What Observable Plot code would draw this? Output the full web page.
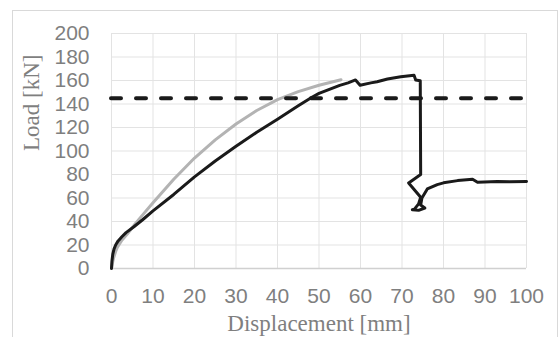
<!DOCTYPE html>
<html>
<head>
<meta charset="utf-8">
<script src="https://cdn.jsdelivr.net/npm/d3@7"></script>
<script src="https://cdn.jsdelivr.net/npm/@observablehq/plot@0.6"></script>
<style>
  html, body { margin: 0; padding: 0; background: #fff; }
  #wrap { position: relative; width: 560px; height: 337px; overflow: hidden; }
  #border { position: absolute; left: 12px; top: 10px; width: 546px; height: 340px; border: 1px solid #d9d9d9; box-sizing: border-box; pointer-events: none; }
</style>
</head>
<body>
<div id="wrap"><div id="border"></div></div>
<script>
// Black test curve (displacement mm, load kN)
const blackDisp = [0, 0.1, 0.3, 0.6, 1.0, 1.6, 2.5, 3.5, 5.4, 7.5, 10, 15, 20, 25, 30, 35, 40, 45, 48.4, 50, 55, 57, 58.8, 59.9, 62.5, 64, 66.5, 69.7, 72.9, 73.3, 74.4, 74.5, 71.6, 74.5, 74, 73, 72.5, 74, 75.5, 74.5, 74.8, 76.1, 78.5, 80, 83.4, 87, 88.2, 93, 96, 100];
const blackLoad = [0, 6, 12, 16.5, 20, 23.5, 27, 30.5, 35.5, 41.5, 49, 63, 78, 91.5, 104, 116, 127, 138.5, 146, 149, 155.9, 158, 160.5, 156, 158, 159, 161.3, 163.2, 164.4, 160.5, 159.8, 80, 72.8, 60.6, 55, 50.5, 50, 49.5, 51.5, 54, 60, 67.7, 71.4, 72.9, 74.8, 76, 73.4, 74, 73.8, 74];
// Grey curve
const greyDisp = [0, 0.2, 0.5, 1.0, 1.4, 2.5, 3.8, 5.5, 7, 10, 15, 20, 25, 30, 35, 40, 45, 50, 55.3];
const greyLoad = [0, 4, 9, 14.5, 18, 24, 29.4, 37, 43.5, 56, 76, 94, 109.5, 123, 134.5, 143.7, 150.5, 156, 160.7];
// Horizontal dashed reference load
const refLoad = [145];
const xTicks = [0, 10, 20, 30, 40, 50, 60, 70, 80, 90, 100];
const yTicks = [0, 20, 40, 60, 80, 100, 120, 140, 160, 180, 200];
const xTitle = "Displacement [mm]";
const yTitle = "Load [kN]";

const black = blackDisp.map((d, i) => ({x: d, y: blackLoad[i]}));
const grey = greyDisp.map((d, i) => ({x: d, y: greyLoad[i]}));

const chart = Plot.plot({
  width: 560,
  height: 337,
  marginLeft: 111,
  marginRight: 34,
  marginTop: 33,
  marginBottom: 69,
  style: {fontFamily: "'Liberation Sans', Arial, sans-serif", fontSize: "21px", color: "#7f7f7f", background: "transparent", overflow: "visible"},
  x: {domain: [0, 100]},
  y: {domain: [0, 200]},
  marks: [
    Plot.gridX(xTicks, {stroke: "#e3e3e3", strokeOpacity: 1, strokeWidth: 1}),
    Plot.gridY(yTicks, {stroke: "#e3e3e3", strokeOpacity: 1, strokeWidth: 1}),
    Plot.ruleY([0], {stroke: "#d0d0d0", strokeWidth: 1.5}),
    Plot.axisX({ticks: xTicks, tickSize: 0, tickPadding: 20, label: null, fontSize: 21}),
    Plot.axisY({ticks: yTicks, tickSize: 0, tickPadding: 22, label: null, fontSize: 21}),
    Plot.line(grey, {x: "x", y: "y", stroke: "#b3b3b3", strokeWidth: 3, strokeLinejoin: "round", strokeLinecap: "round"}),
    Plot.ruleY(refLoad, {x1: 0, x2: 100, stroke: "#1a1a1a", strokeWidth: 4, strokeDasharray: "10,15", strokeLinecap: "round"}),
    Plot.line(black, {x: "x", y: "y", stroke: "#1a1a1a", strokeWidth: 3, strokeLinejoin: "round", strokeLinecap: "round"}),
    Plot.text([xTitle], {frameAnchor: "bottom", dy: 55, fontFamily: "'Liberation Serif', 'Times New Roman', serif", fontSize: 23, fill: "#7f7f7f", lineAnchor: "middle"}),
    Plot.text([yTitle], {frameAnchor: "left", dx: -80, rotate: -90, fontFamily: "'Liberation Serif', 'Times New Roman', serif", fontSize: 23, fill: "#7f7f7f", lineAnchor: "middle"})
  ]
});
document.getElementById("wrap").prepend(chart);
</script>
</body>
</html>
